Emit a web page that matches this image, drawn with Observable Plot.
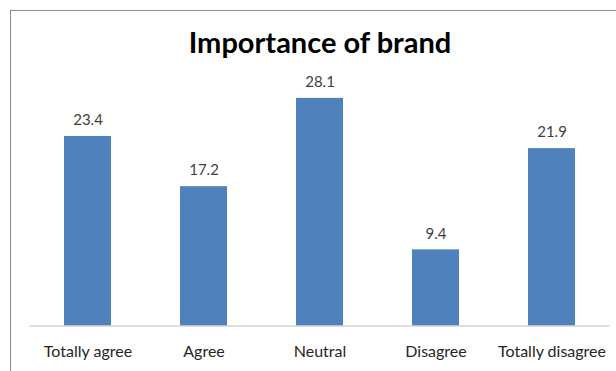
<!DOCTYPE html>
<html>
<head>
<meta charset="utf-8">
<script src="https://cdn.jsdelivr.net/npm/d3@7"></script>
<script src="https://cdn.jsdelivr.net/npm/@observablehq/plot@0.6"></script>
<style>
  html, body { margin: 0; padding: 0; background: #fff; }
  #wrap { position: relative; width: 616px; height: 371px; overflow: hidden; }
  #border { position: absolute; left: 10px; top: 10px; width: 640px; height: 400px;
            border: 1.5px solid #8a8a8a; box-sizing: border-box; pointer-events: none; }
  #chart svg { display: block; }
</style>
</head>
<body>
<div id="wrap"><div id="chart"></div><div id="border"></div></div>
<script>
const categories = ["Totally agree", "Agree", "Neutral", "Disagree", "Totally disagree"];
const values = [23.4, 17.2, 28.1, 9.4, 21.9];
const valueLabels = ["23.4", "17.2", "28.1", "9.4", "21.9"];
const title = "Importance of brand";

const data = categories.map((c, i) => ({category: c, value: values[i], label: valueLabels[i]}));

const chart = Plot.plot({
  width: 616,
  height: 371,
  marginLeft: 29.5,
  marginRight: 6.5,
  marginTop: 82.5,
  marginBottom: 45.5,
  style: {fontFamily: "Lato, sans-serif", background: "#fff"},
  x: {domain: categories, paddingInner: 0.595, paddingOuter: 0.2975, label: null},
  y: {domain: [0, 30], axis: null},
  marks: [
    Plot.barY(data, {x: "category", y: "value", fill: "#4F81BD"}),
    Plot.ruleY([0], {stroke: "#c0c0c0", strokeWidth: 1.2}),
    Plot.text(data, {x: "category", y: "value", text: "label", lineAnchor: "middle",
      dy: -16, fontSize: 15, fill: "#404040"}),
    Plot.axisX({tickSize: 0, tickPadding: 20, fontSize: 16, fill: "#262626", label: null}),
    Plot.text([title], {frameAnchor: "top", lineAnchor: "middle", dy: -39,
      fontSize: 29, fontWeight: "bold", fill: "#000"})
  ]
});
document.getElementById("chart").appendChild(chart);
</script>
</body>
</html>
